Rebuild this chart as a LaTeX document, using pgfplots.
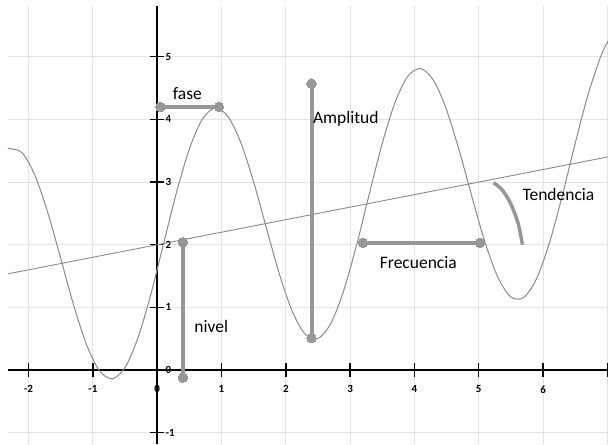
\documentclass[border=0pt]{standalone}
\usepackage{fontspec}
\setmainfont{Carlito}
\usepackage{pgfplots}
\pgfplotsset{compat=1.18}
\definecolor{curva}{HTML}{8A8A8A}
\definecolor{marca}{HTML}{979797}
\definecolor{rejilla}{HTML}{E3E3E3}
\tikzset{segm/.style={color=marca, line width=4pt, mark=*, mark size=4.8pt, mark options={fill=marca, draw=marca, line width=0pt}}}

\begin{document}
\begin{tikzpicture}
\begin{axis}[
    scale only axis,
    width=600pt, height=438pt,
    xmin=-2.32, xmax=7.01,
    ymin=-1.18, ymax=5.81,
    axis lines=middle,
    axis line style={black, line width=1.6pt, -},
    xtick={-2,...,7}, ytick={-1,...,5},
    xticklabels={-2,-1,0,1,2,3,4,5,6,{}},
    hide obscured x ticks=false, hide obscured y ticks=false,
    grid=major,
    grid style={rejilla, line width=0.8pt},
    tick align=center,
    major tick length=14pt,
    tick style={black, line width=1.4pt},
    ticklabel style={font=\fontsize{11}{11}\selectfont\bfseries},
    /pgf/number format/assume math mode=true,
    xticklabel style={anchor=north, yshift=-5pt},
    yticklabel style={anchor=west, xshift=12pt},
]
% onda
\addplot[curva, line width=1pt, smooth] coordinates {
    (-2.32,3.54) (-2.3,3.536) (-2.1,3.467) (-1.9,3.103) (-1.7,2.507) (-1.5,1.780)
    (-1.3,1.039) (-1.1,0.409) (-0.9,-0.008) (-0.7,-0.140) (-0.5,0.041)
    (-0.3,0.512) (-0.1,1.205) (0.1,2.020) (0.3,2.835) (0.5,3.528)
    (0.7,3.999) (0.9,4.180) (1.1,4.048) (1.3,3.631) (1.5,3.001)
    (1.7,2.260) (1.9,1.533) (2.1,0.937) (2.3,0.573) (2.5,0.504)
    (2.7,0.745) (2.9,1.268) (3.1,1.994) (3.3,2.819) (3.5,3.619)
    (3.7,4.275) (3.9,4.692) (4.1,4.810) (4.3,4.618) (4.5,4.152)
    (4.7,3.490) (4.9,2.742) (5.1,2.031) (5.3,1.475) (5.5,1.166)
    (5.7,1.159) (5.9,1.461) (6.1,2.032) (6.3,2.787) (6.5,3.617)
    (6.7,4.397) (6.9,5.012) (7.01,5.25)
};
% tendencia
\addplot[curva, line width=0.9pt] coordinates {(-2.32,1.536) (7.01,3.402)};

% marcas
\addplot[segm] coordinates {(0.05,4.2) (0.96,4.2)};
\addplot[segm] coordinates {(2.4,0.51) (2.4,4.57)};
\addplot[segm] coordinates {(0.4,2.04) (0.4,-0.12)};
\addplot[segm] coordinates {(3.2,2.03) (5.02,2.03)};
\addplot[marca, line width=3.5pt, smooth, mark=none] coordinates {
    (5.23,2.99) (5.36,2.88) (5.49,2.67) (5.61,2.35) (5.68,2.0)
};

\node[font=\fontsize{17.5}{17.5}\selectfont] at (axis cs:0.47,4.41) {fase};
\node[font=\fontsize{17.5}{17.5}\selectfont, anchor=west, inner sep=0pt] at (axis cs:2.42,4.01) {Amplitud};
\node[font=\fontsize{17.5}{17.5}\selectfont] at (axis cs:0.84,0.69) {nivel};
\node[font=\fontsize{17.5}{17.5}\selectfont] at (axis cs:4.06,1.71) {Frecuencia};
\node[font=\fontsize{17.5}{17.5}\selectfont] at (axis cs:6.24,2.80) {Tendencia};
\end{axis}
\pgfresetboundingbox
\path ([xshift=-8pt]current axis.south west) rectangle ([yshift=6pt]current axis.north east);
\end{tikzpicture}
\end{document}
